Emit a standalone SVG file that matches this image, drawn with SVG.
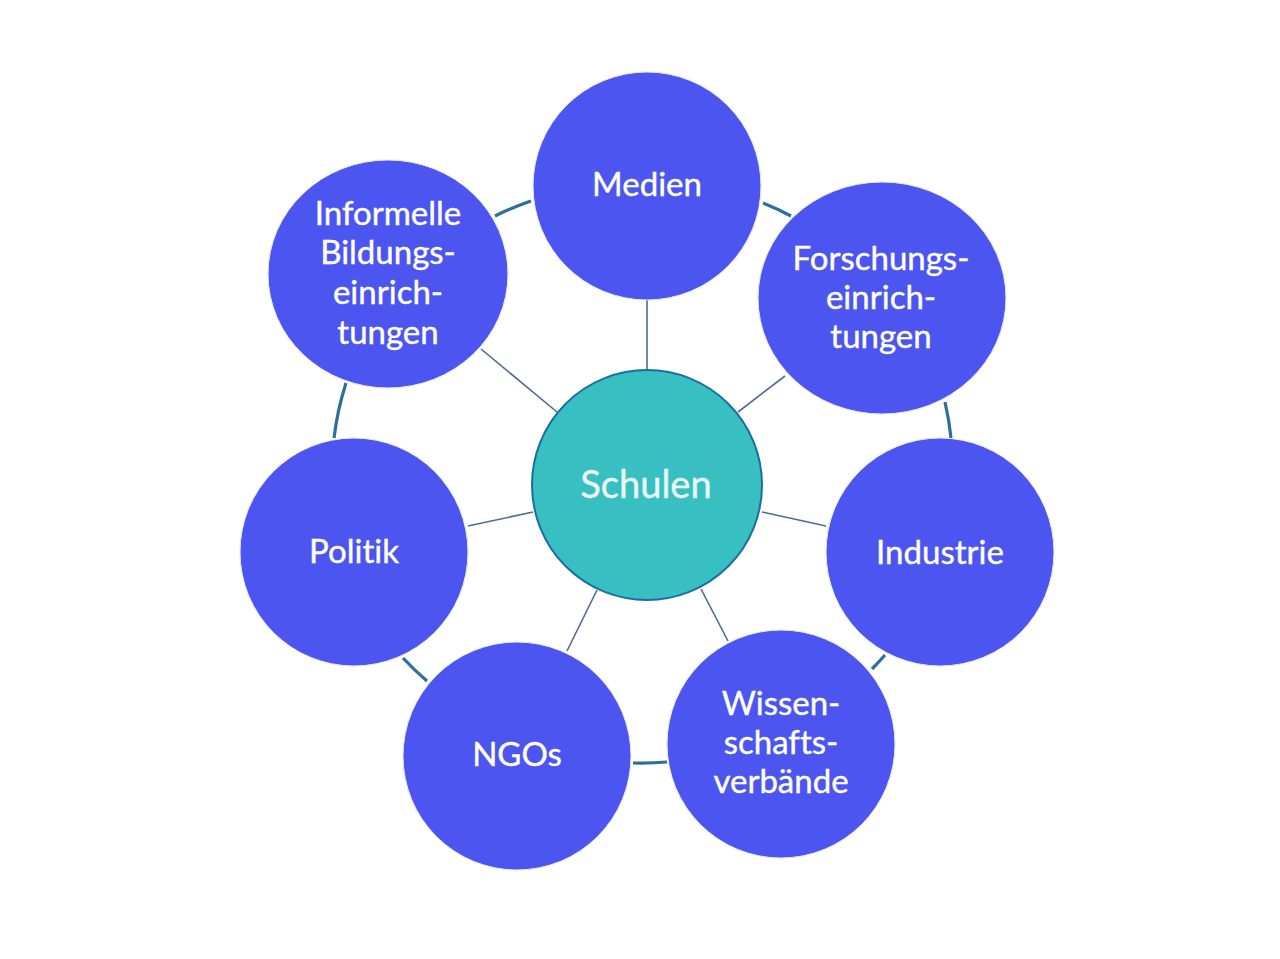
<svg xmlns="http://www.w3.org/2000/svg" width="1280" height="959" viewBox="0 0 1280 959">
<style>
.node{fill:#4C55EF;stroke:#E8E9FB;stroke-width:1}
.hub{fill:#38BFC1;stroke:#1A6FA0;stroke-width:2}
.lbl{font-family:Lato,"Open Sans",sans-serif;font-size:33px;fill:#FFFFFF;stroke:#FFFFFF;stroke-width:0.4;text-anchor:middle;font-variant-ligatures:none;font-feature-settings:"liga" 0}
.hlbl{font-family:Lato,"Open Sans",sans-serif;font-size:38px;fill:#EAF6F4;stroke:#EAF6F4;stroke-width:0.4;text-anchor:middle;font-variant-ligatures:none;font-feature-settings:"liga" 0}
.spoke{stroke:#4D6B93;stroke-width:1.6;fill:none}
.ring{stroke:#2C6F9C;stroke-width:3.2;fill:none;stroke-linecap:butt}
</style>
<rect width="1280" height="959" fill="#FFFFFF"/>
<g id="connectors">
<line class="spoke" x1="647" y1="300" x2="647" y2="371"/>
<line class="spoke" x1="481" y1="349" x2="557" y2="412"/>
<line class="spoke" x1="785" y1="376" x2="738" y2="412"/>
<line class="spoke" x1="762" y1="512" x2="826" y2="526"/>
<line class="spoke" x1="468" y1="526" x2="533" y2="512"/>
<line class="spoke" x1="597" y1="590" x2="567" y2="651"/>
<line class="spoke" x1="701" y1="589" x2="728" y2="641"/>
<path class="ring" d="M495,216 A300,300 0 0 1 531,201"/>
<path class="ring" d="M763,203 A300,300 0 0 1 791,216"/>
<path class="ring" d="M945,402 A300,300 0 0 1 951,438"/>
<path class="ring" d="M885,655 A300,300 0 0 1 872,669"/>
<path class="ring" d="M667,762 A300,300 0 0 1 633,763"/>
<path class="ring" d="M427,681 A300,300 0 0 1 403,658"/>
<path class="ring" d="M334,438 A300,300 0 0 1 346,383"/>
</g>
<g id="node-medien">
<circle class="node" cx="647" cy="186" r="114"/>
<text class="lbl" x="647" y="196">Medien</text>
</g>
<g id="node-forschung">
<ellipse class="node" cx="882" cy="298" rx="124" ry="116"/>
<text class="lbl" x="881" y="270">Forschungs-</text>
<text class="lbl" x="881" y="309">einrich-</text>
<text class="lbl" x="881" y="348">tungen</text>
</g>
<g id="node-industrie">
<circle class="node" cx="940" cy="552" r="114"/>
<text class="lbl" x="940" y="564">Industrie</text>
</g>
<g id="node-wissenschaft">
<circle class="node" cx="781" cy="744" r="114"/>
<text class="lbl" x="781" y="715">Wissen-</text>
<text class="lbl" x="781" y="754">schafts-</text>
<text class="lbl" x="781" y="793">verbände</text>
</g>
<g id="node-ngos">
<circle class="node" cx="517" cy="756" r="114"/>
<text class="lbl" x="517" y="766">NGOs</text>
</g>
<g id="node-politik">
<circle class="node" cx="354" cy="552" r="114"/>
<text class="lbl" x="354" y="563">Politik</text>
</g>
<g id="node-informelle">
<ellipse class="node" cx="388" cy="274" rx="120" ry="114"/>
<text class="lbl" x="388" y="225">Informelle</text>
<text class="lbl" x="388" y="264">Bildungs-</text>
<text class="lbl" x="388" y="304">einrich-</text>
<text class="lbl" x="388" y="344">tungen</text>
</g>
<g id="node-schulen">
<circle class="hub" cx="647" cy="485" r="115"/>
<text class="hlbl" x="646" y="498">Schulen</text>
</g>
</svg>
